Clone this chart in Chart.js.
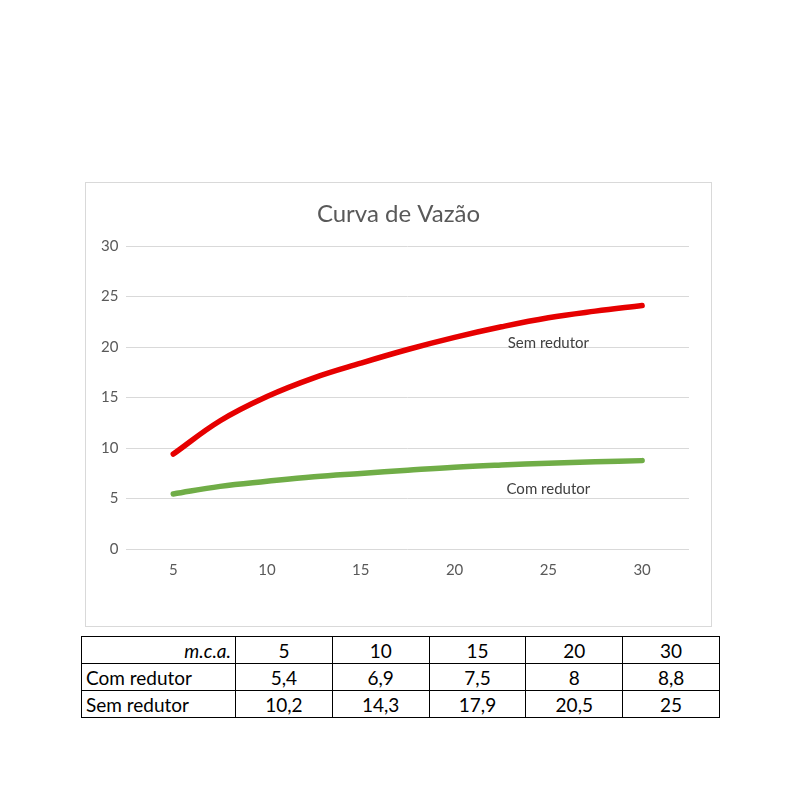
<!DOCTYPE html>
<html>
<head>
<meta charset="utf-8">
<script src="https://cdn.jsdelivr.net/npm/chart.js@4/dist/chart.umd.min.js"></script>
<style>
  body { margin: 0; background: #fff; width: 800px; height: 800px; position: relative; font-family: Lato, "Noto Sans", sans-serif; }
  #frame { position: absolute; left: 85px; top: 182px; width: 625px; height: 443px; border: 1px solid #d9d9d9; }
  #frame canvas { display: block; }
  table { position: absolute; left: 81px; top: 636px; width: 639px; table-layout: fixed; border-collapse: collapse; font-size: 19px; color: #000; }
  td { border: 1.5px solid #000; height: 26px; padding: 0 4px; text-align: center; overflow: hidden; white-space: nowrap; }
  td.h { text-align: left; }
  td.i { font-style: italic; text-align: right; }
</style>
</head>
<body>
<div id="frame"><canvas id="chart" width="625" height="443"></canvas></div>
<table id="tbl"><colgroup><col style="width:154px"><col><col><col><col><col></colgroup><tbody id="corpo"></tbody></table>
<script>
// pontos (m.c.a. -> vazão)
const pressao = [5, 7.5, 10, 12.5, 15, 17.5, 20, 22.5, 25, 27.5, 30];
const semRedutor = [9.4, 12.7, 15.1, 16.95, 18.4, 19.75, 20.95, 22.0, 22.9, 23.55, 24.1];
const comRedutor = [5.45, 6.2, 6.7, 7.15, 7.48, 7.8, 8.1, 8.32, 8.5, 8.64, 8.75];
const xTicks = [5, 10, 15, 20, 25, 30];
const yTicks = [0, 5, 10, 15, 20, 25, 30];

// tabela de baixo
const tabCols = ["5", "10", "15", "20", "30"];
const tabCom = ["5,4", "6,9", "7,5", "8", "8,8"];
const tabSem = ["10,2", "14,3", "17,9", "20,5", "25"];

const rows = [
  ["m.c.a.", tabCols, "h i"],
  ["Com redutor", tabCom, "h"],
  ["Sem redutor", tabSem, "h"]
];
document.getElementById("corpo").innerHTML = rows.map(r =>
  `<tr><td class="${r[2]}">${r[0]}</td>${r[1].map(v => `<td>${v}</td>`).join("")}</tr>`
).join("");

const pts = arr => pressao.map((x, i) => ({ x: x, y: arr[i] }));
const fonte = "Lato, 'Noto Sans', sans-serif";

// título centrado no quadro e rótulos das séries ao lado das curvas
const textos = {
  id: "textos",
  afterDatasetsDraw(chart) {
    const { ctx, scales } = chart;
    ctx.save();
    ctx.textAlign = "center";
    ctx.textBaseline = "middle";
    ctx.font = "24px " + fonte;
    ctx.fillStyle = "#595959";
    ctx.fillText("Curva de Vazão", chart.width / 2, 31);
    ctx.font = "15px " + fonte;
    ctx.fillStyle = "#404040";
    ctx.fillText("Sem redutor", scales.x.getPixelForValue(25), scales.y.getPixelForValue(20.35));
    ctx.fillText("Com redutor", scales.x.getPixelForValue(25), scales.y.getPixelForValue(5.95));
    ctx.restore();
  }
};

new Chart(document.getElementById("chart").getContext("2d"), {
  type: "line",
  data: {
    datasets: [
      { label: "Sem redutor", data: pts(semRedutor), borderColor: "#e60000", borderWidth: 5.5, pointRadius: 0, tension: 0.4, borderCapStyle: "round", borderJoinStyle: "round" },
      { label: "Com redutor", data: pts(comRedutor), borderColor: "#70ad47", borderWidth: 5.5, pointRadius: 0, tension: 0.4, borderCapStyle: "round", borderJoinStyle: "round" }
    ]
  },
  options: {
    responsive: false,
    animation: false,
    layout: { padding: { left: 7, right: 22, top: 63, bottom: 43 } },
    plugins: {
      legend: { display: false },
      tooltip: { enabled: false },
      title: { display: false }
    },
    scales: {
      x: {
        type: "linear",
        min: 2.5, max: 32.5,
        afterBuildTicks: axis => { axis.ticks = xTicks.map(v => ({ value: v })); },
        grid: { display: false },
        border: { display: false },
        ticks: { color: "#595959", font: { size: 15, family: fonte }, padding: 4 }
      },
      y: {
        min: 0, max: 30,
        afterBuildTicks: axis => { axis.ticks = yTicks.map(v => ({ value: v })); },
        grid: { color: "#d9d9d9", lineWidth: 1, drawTicks: false },
        border: { display: false },
        ticks: { color: "#595959", font: { size: 15, family: fonte }, padding: 8 }
      }
    }
  },
  plugins: [textos]
});
</script>
</body>
</html>
